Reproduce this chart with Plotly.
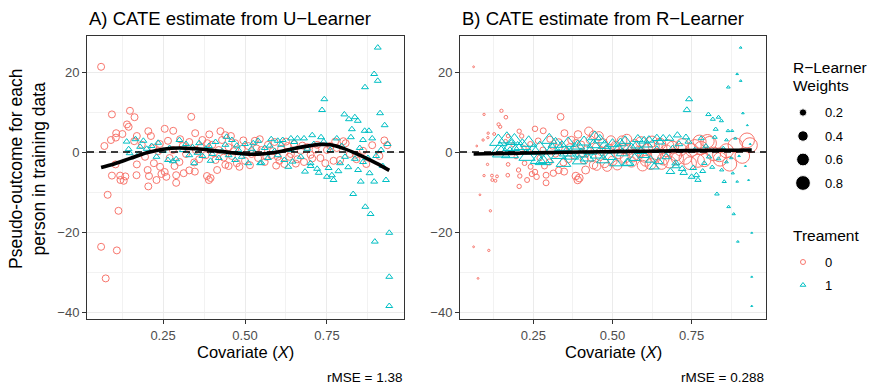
import numpy as np
import plotly.graph_objects as go

# ---- data ----
# control units (Treament = 0): covariate, pseudo-outcome, R-learner weight
ctrl_x = [0.061, 0.094, 0.149, 0.163, 0.140, 0.145, 0.107, 0.126, 0.091, 0.071,
          0.106, 0.170, 0.162, 0.205, 0.213, 0.281, 0.255, 0.336, 0.302, 0.348,
          0.391, 0.170, 0.105, 0.094, 0.119, 0.135, 0.169, 0.203, 0.222, 0.241,
          0.245, 0.255, 0.260, 0.207, 0.290, 0.313, 0.330, 0.347, 0.384, 0.081,
          0.114, 0.061, 0.109, 0.075, 0.205, 0.230, 0.290, 0.120, 0.130, 0.390,
          0.220, 0.240, 0.270, 0.280, 0.300, 0.310, 0.320, 0.330, 0.350, 0.360,
          0.370, 0.380, 0.400, 0.410, 0.420, 0.430, 0.440, 0.450, 0.460, 0.470,
          0.457, 0.483, 0.450, 0.490, 0.500, 0.510, 0.520, 0.530, 0.540, 0.550,
          0.560, 0.570, 0.580, 0.590, 0.600, 0.610, 0.620, 0.630, 0.640, 0.650,
          0.660, 0.670, 0.680, 0.690, 0.700, 0.720, 0.730, 0.750, 0.770, 0.780,
          0.800, 0.820, 0.888, 0.934, 0.910, 0.860, 0.840, 0.807, 0.790, 0.838,
          0.775, 0.425, 0.440, 0.395, 0.415, 0.475, 0.495, 0.515, 0.535, 0.565,
          0.585, 0.605, 0.625, 0.655, 0.675, 0.705, 0.715, 0.745, 0.760, 0.185,
          0.195, 0.235, 0.265, 0.285, 0.345, 0.365, 0.385, 0.405, 0.435, 0.465,
          0.545, 0.595, 0.635, 0.870, 0.925]
ctrl_y = [21.3, 9.4, 10.3, 8.7, 6.9, 6.3, 4.7, 4.5, 3.0, 1.5,
          3.6, 4.0, 2.7, 5.2, 4.0, 5.3, 5.8, 8.8, 3.2, 4.7,
          4.4, -3.1, -3.1, -5.9, -5.9, -6.1, -5.8, -4.5, -2.8, -3.7,
          -5.5, -5.0, -6.2, -6.0, -5.8, -5.3, -4.6, -4.9, -6.0, -10.7,
          -14.7, -23.7, -24.6, -31.6, -8.6, -7.0, -7.7, -7.0, -7.2, -7.0,
          1.0, 2.0, -1.5, 0.5, -2.5, 1.5, -0.5, 2.5, 0.5, -1.8,
          3.0, -0.8, 1.8, -2.0, 0.5, 3.0, -3.2, 1.2, -1.0, 2.2,
          4.0, -3.7, -3.5, 0.8, -2.2, 1.5, -0.5, 2.8, -1.5, 0.5,
          -2.5, 1.8, -0.8, 2.5, -1.2, 0.8, -3.0, 1.5, -0.5, 2.0,
          -1.8, 0.3, -2.5, 1.2, -0.7, 1.8, -1.5, 0.5, -2.2, 1.0,
          2.7, -0.5, 1.7, 1.7, -1.0, 0.3, -1.8, 2.2, -2.0, -0.7,
          2.6, 5.2, 4.2, -6.5, -4.5, -2.8, 2.9, -3.3, 0.9, -1.2,
          0.2, -2.2, 2.6, -2.9, 1.6, -1.6, 0.6, -2.8, 1.5, 1.8,
          -1.2, 0.2, 2.8, -3.5, -2.6, 1.2, 2.2, -0.3, -1.4, 0.2,
          3.2, -3.4, -1.2, -3.0, 2.9]
ctrl_w = [0.01, 0.02, 0.04, 0.05, 0.04, 0.04, 0.02, 0.03, 0.02, 0.01,
          0.02, 0.05, 0.05, 0.07, 0.07, 0.13, 0.11, 0.17, 0.14, 0.18,
          0.21, 0.05, 0.02, 0.02, 0.03, 0.03, 0.05, 0.07, 0.08, 0.09,
          0.10, 0.11, 0.11, 0.07, 0.13, 0.15, 0.16, 0.18, 0.21, 0.01,
          0.02, 0.01, 0.02, 0.01, 0.07, 0.09, 0.13, 0.03, 0.03, 0.21,
          0.08, 0.09, 0.12, 0.13, 0.14, 0.15, 0.15, 0.16, 0.18, 0.19,
          0.20, 0.21, 0.22, 0.23, 0.24, 0.25, 0.26, 0.27, 0.28, 0.29,
          0.28, 0.30, 0.27, 0.31, 0.32, 0.33, 0.34, 0.35, 0.36, 0.37,
          0.38, 0.39, 0.40, 0.41, 0.42, 0.43, 0.44, 0.46, 0.47, 0.48,
          0.49, 0.50, 0.52, 0.53, 0.54, 0.56, 0.58, 0.60, 0.62, 0.64,
          0.66, 0.68, 0.77, 0.82, 0.79, 0.73, 0.70, 0.67, 0.65, 0.70,
          0.63, 0.25, 0.26, 0.22, 0.23, 0.29, 0.31, 0.33, 0.35, 0.38,
          0.41, 0.43, 0.45, 0.48, 0.51, 0.55, 0.56, 0.60, 0.61, 0.06,
          0.06, 0.09, 0.12, 0.13, 0.18, 0.19, 0.21, 0.22, 0.25, 0.28,
          0.36, 0.42, 0.46, 0.74, 0.81]

# treated units (Treament = 1)
trt_x = [0.139, 0.166, 0.145, 0.148, 0.176, 0.180, 0.190, 0.200, 0.215, 0.230,
         0.250, 0.265, 0.270, 0.280, 0.290, 0.310, 0.320, 0.330, 0.340, 0.355,
         0.360, 0.370, 0.380, 0.390, 0.400, 0.410, 0.420, 0.430, 0.440, 0.450,
         0.460, 0.470, 0.480, 0.490, 0.500, 0.510, 0.520, 0.530, 0.540, 0.550,
         0.560, 0.570, 0.580, 0.590, 0.600, 0.610, 0.620, 0.632, 0.640, 0.650,
         0.660, 0.670, 0.680, 0.683, 0.690, 0.700, 0.710, 0.720, 0.732, 0.735,
         0.742, 0.750, 0.760, 0.770, 0.780, 0.790, 0.803, 0.805, 0.817, 0.823,
         0.826, 0.830, 0.835, 0.835, 0.844, 0.853, 0.860, 0.860, 0.865, 0.866,
         0.867, 0.878, 0.880, 0.883, 0.888, 0.894, 0.894, 0.896, 0.900, 0.905,
         0.905, 0.912, 0.926, 0.930, 0.940, 0.940, 0.940, 0.920, 0.935, 0.444,
         0.546, 0.700, 0.725, 0.755, 0.765, 0.785, 0.795, 0.815, 0.845, 0.850,
         0.875, 0.915, 0.235, 0.300, 0.345, 0.395, 0.475, 0.525, 0.575, 0.615,
         0.645, 0.705, 0.740, 0.640, 0.600]
trt_y = [2.6, 3.2, 0.7, -0.3, -0.5, 1.3, 2.8, 0.8, 1.5, -1.2,
         0.3, -2.0, 1.0, -2.3, -1.8, 0.5, 2.0, -0.8, 1.2, -0.2,
         2.2, -1.0, 0.8, 1.5, -0.5, 2.5, -1.5, 0.2, 1.8, -0.8,
         3.0, -2.0, 0.5, -1.2, 2.0, -2.8, 0.8, -0.3, 2.8, -2.7,
         1.0, -1.5, 3.2, 0.2, -0.8, 1.8, -2.0, -3.7, 0.5, 2.5,
         3.4, -1.2, 3.4, -4.9, 0.8, -3.5, 2.0, -4.2, 3.7, 10.5,
         13.2, -6.2, 0.5, -7.0, 3.4, -2.8, 9.4, -1.2, 8.2, 3.7,
         5.7, -10.5, 8.7, -1.7, 7.8, -7.4, 3.0, -2.5, 5.3, 16.2,
         -13.7, 5.3, -5.3, -15.5, 3.4, 19.5, -7.4, -22.4, -1.0, 26.1,
         17.8, 9.7, 6.7, -7.0, -20.2, -31.2, -38.5, -3.5, 2.0, 3.8,
         -2.8, -2.8, -5.2, -4.0, -5.8, -4.8, 1.5, -3.8, -4.5, 1.0,
         -1.5, 0.5, 2.3, 3.0, -2.8, -2.2, 1.6, 2.2, 1.6, 3.0,
         -2.4, 4.2, 2.6, 3.4, 2.8]
trt_w = [0.84, 0.81, 0.83, 0.83, 0.80, 0.80, 0.79, 0.78, 0.76, 0.74,
         0.72, 0.70, 0.69, 0.68, 0.67, 0.65, 0.64, 0.62, 0.61, 0.59,
         0.59, 0.58, 0.56, 0.55, 0.54, 0.53, 0.52, 0.50, 0.49, 0.48,
         0.47, 0.46, 0.44, 0.43, 0.42, 0.41, 0.40, 0.39, 0.37, 0.36,
         0.35, 0.34, 0.33, 0.31, 0.30, 0.29, 0.28, 0.27, 0.26, 0.24,
         0.23, 0.22, 0.21, 0.21, 0.20, 0.18, 0.17, 0.16, 0.15, 0.15,
         0.14, 0.13, 0.12, 0.11, 0.10, 0.09, 0.08, 0.08, 0.07, 0.07,
         0.07, 0.06, 0.06, 0.06, 0.05, 0.05, 0.04, 0.04, 0.04, 0.04,
         0.04, 0.03, 0.03, 0.03, 0.03, 0.02, 0.02, 0.02, 0.02, 0.02,
         0.02, 0.02, 0.01, 0.01, 0.01, 0.01, 0.01, 0.01, 0.01, 0.49,
         0.37, 0.18, 0.16, 0.13, 0.12, 0.10, 0.09, 0.07, 0.05, 0.05,
         0.03, 0.02, 0.73, 0.66, 0.60, 0.55, 0.45, 0.40, 0.33, 0.28,
         0.25, 0.18, 0.14, 0.26, 0.30]

# smoothed CATE estimates (black lines)
u_fit_x = [0.061, 0.10, 0.15, 0.20, 0.25, 0.30, 0.35, 0.40, 0.45, 0.50,
           0.55, 0.60, 0.65, 0.70, 0.73, 0.76, 0.80, 0.85, 0.90, 0.94]
u_fit_y = [-3.9, -3.0, -1.6, -0.2, 0.7, 1.0, 0.8, 0.4, -0.1, -0.5,
           -0.5, 0.0, 0.9, 1.6, 1.9, 1.8, 0.9, -0.8, -2.8, -4.6]
r_fit_x = [0.061, 0.10, 0.20, 0.30, 0.40, 0.50, 0.60, 0.70, 0.80, 0.90, 0.94]
r_fit_y = [-0.5, -0.45, -0.3, -0.15, 0.0, 0.1, 0.2, 0.3, 0.4, 0.45, 0.5]

weight_keys = [0.2, 0.4, 0.6, 0.8]
panel_titles = ["A) CATE estimate from U\u2212Learner", "B) CATE estimate from R\u2212Learner"]
rmse_labels = ["rMSE = 1.38", "rMSE = 0.288"]

# ---- styling ----
W, H = 870, 389
RED, CYAN = "#F8766D", "#00BFC4"
FONT = "Liberation Sans, Arial, sans-serif"


def px(x):
    return x / W


def py(y):
    return 1 - y / H


def wsize(w):
    return np.maximum(16.5 * np.sqrt(np.asarray(w)), 1.8)


def axis_style(domain, rng, dtick, minor_dtick, fmt):
    return dict(domain=domain, range=rng, tick0=0, dtick=dtick, tickformat=fmt,
                ticks="outside", ticklen=4, tickwidth=1, tickcolor="#333333",
                showline=True, mirror=True, linecolor="#333333", linewidth=1,
                showgrid=True, gridcolor="#EBEBEB", gridwidth=1.1, zeroline=False,
                tickfont=dict(family=FONT, size=13, color="#4D4D4D"),
                minor=dict(dtick=minor_dtick, tick0=0, showgrid=True,
                           gridcolor="#F2F2F2", gridwidth=0.6, ticks=""))


fig = go.Figure()

x_domains = [[px(87), px(404)], [px(460), px(766)]]
y_domain = [py(319), py(36)]
fits = [(u_fit_x, u_fit_y), (r_fit_x, r_fit_y)]

for i, (xa, ya) in enumerate([("x", "y"), ("x2", "y2")]):
    if i == 0:
        cs, ts = 7, 6
    else:
        cs, ts = wsize(ctrl_w), wsize(trt_w)
    fig.add_trace(go.Scatter(x=ctrl_x, y=ctrl_y, mode="markers", xaxis=xa, yaxis=ya,
                             marker=dict(symbol="circle-open", size=cs, color=RED, opacity=1,
                                         line=dict(width=1, color=RED)),
                             showlegend=False))
    fig.add_trace(go.Scatter(x=trt_x, y=trt_y, mode="markers", xaxis=xa, yaxis=ya,
                             marker=dict(symbol="triangle-up-open", size=ts, color=CYAN, opacity=1,
                                         line=dict(width=1, color=CYAN)),
                             showlegend=False))
    fx, fy = fits[i]
    fig.add_trace(go.Scatter(x=fx, y=fy, mode="lines", xaxis=xa, yaxis=ya,
                             line=dict(color="black", width=3.6, shape="spline"),
                             showlegend=False))
    fig.add_shape(type="line", xref=f"{xa} domain", yref=ya, x0=0, x1=1, y0=0, y1=0,
                  line=dict(color="black", width=1.4, dash="7px,5px"), layer="above")

# legend keys on a hidden helper axis measured in pixels
fig.add_trace(go.Scatter(x=[803] * 4, y=[112.5, 136, 159.5, 183], mode="markers",
                         xaxis="x3", yaxis="y3", showlegend=False,
                         marker=dict(symbol="circle", color="black", opacity=1,
                                     size=wsize(weight_keys))))
fig.add_trace(go.Scatter(x=[803], y=[262], mode="markers", xaxis="x3", yaxis="y3",
                         showlegend=False,
                         marker=dict(symbol="circle-open", size=5, color=RED, line=dict(width=1, color=RED))))
fig.add_trace(go.Scatter(x=[803], y=[285], mode="markers", xaxis="x3", yaxis="y3",
                         showlegend=False,
                         marker=dict(symbol="triangle-up-open", size=5, color=CYAN, line=dict(width=1, color=CYAN))))

ann = []
for i in range(2):
    left, right = [87, 460][i], [404, 766][i]
    ann.append(dict(text=panel_titles[i], x=px(left), y=py(18), xanchor="left", yanchor="middle",
                    font=dict(size=18.5, color="black")))
    ann.append(dict(text="Covariate (<i>X</i>)", x=px((left + right) / 2), y=py(352),
                    xanchor="center", yanchor="middle", font=dict(size=16.5, color="black")))
    ann.append(dict(text=rmse_labels[i], x=px(right), y=py(377), xanchor="right", yanchor="middle",
                    font=dict(size=13.5, color="black")))
ann.append(dict(text="Pseudo-outcome for each<br>person in training data", x=px(28), y=py(169),
                xanchor="center", yanchor="middle", textangle=-90,
                font=dict(size=17.5, color="black")))
ann.append(dict(text="R\u2212Learner", x=px(791), y=py(68), xanchor="left", yanchor="middle",
                font=dict(size=15.5, color="black")))
ann.append(dict(text="Weights", x=px(791), y=py(86), xanchor="left", yanchor="middle",
                font=dict(size=15.5, color="black")))
for k, yy in zip(weight_keys, [112.5, 136, 159.5, 183]):
    ann.append(dict(text=f"{k}", x=px(823), y=py(yy), xanchor="left", yanchor="middle",
                    font=dict(size=13, color="black")))
ann.append(dict(text="Treament", x=px(791), y=py(235), xanchor="left", yanchor="middle",
                font=dict(size=15.5, color="black")))
for lab, yy in zip(["0", "1"], [262, 285]):
    ann.append(dict(text=lab, x=px(823), y=py(yy), xanchor="left", yanchor="middle",
                    font=dict(size=13, color="black")))
for a in ann:
    a.update(xref="paper", yref="paper", showarrow=False)

xr = [0.018, 0.985]
yr = [-41.75, 29]
fig.update_layout(
    width=W, height=H, margin=dict(l=0, r=0, t=0, b=0),
    paper_bgcolor="white", plot_bgcolor="white",
    font=dict(family=FONT, color="black"),
    xaxis=axis_style(x_domains[0], xr, 0.25, 0.125, ".2f") | dict(anchor="y"),
    yaxis=axis_style(y_domain, yr, 20, 10, "d") | dict(anchor="x"),
    xaxis2=axis_style(x_domains[1], xr, 0.25, 0.125, ".2f") | dict(anchor="y2"),
    yaxis2=axis_style(y_domain, yr, 20, 10, "d") | dict(anchor="x2"),
    xaxis3=dict(domain=[0.89, 1.0], range=[0.89 * W, W], visible=False, anchor="y3"),
    yaxis3=dict(domain=[0, 1], range=[H, 0], visible=False, anchor="x3"),
    annotations=ann,
    showlegend=False,
)

# the page body has a default 8px margin; drop it so the figure fills the window
fig.write_html("out.html", config={"displayModeBar": False},
               post_script="document.body.style.margin='0';")
